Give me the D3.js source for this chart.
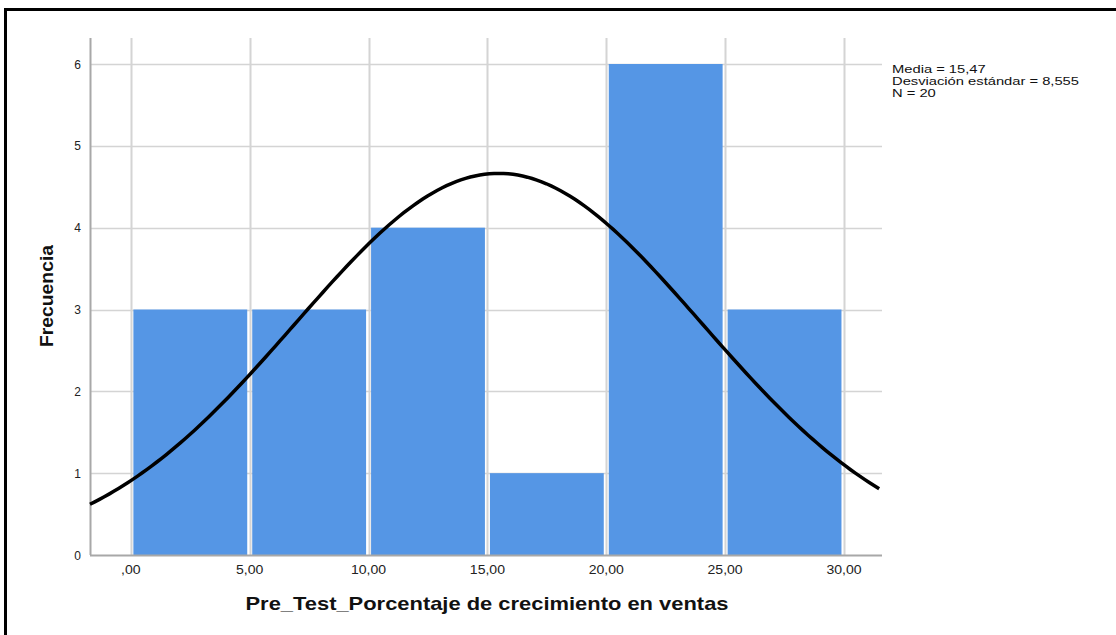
<!DOCTYPE html>
<html>
<head>
<meta charset="utf-8">
<script src="https://cdn.jsdelivr.net/npm/d3@7"></script>
<style>
  body { margin: 0; background: #fff; }
  text { font-family: "Liberation Sans", Arial, sans-serif; }
</style>
</head>
<body>
<div id="vis"></div>
<script>
const width = 1116
const height = 635

// histogram bins and counts
const binStarts = [0, 5, 10, 15, 20, 25]
const binWidth = 5
const counts = [3, 3, 4, 1, 6, 3]

// axis ticks
const xTicks = [0, 5, 10, 15, 20, 25, 30]
const xTickLabels = [",00", "5,00", "10,00", "15,00", "20,00", "25,00", "30,00"]
const yTicks = [0, 1, 2, 3, 4, 5, 6]

// summary statistics shown in the legend
const mean = 15.47
const sd = 8.555
const n = 20
const statLines = ["Media = 15,47", "Desviación estándar = 8,555", "N = 20"]

const plotLeft = 90, plotRight = 882, plotTop = 38, plotBottom = 555

// the source picture's text is a little wider than the font renders here
function stretch(sel, k) {
    sel.each(function () {
        const w = this.getComputedTextLength()
        d3.select(this).attr("textLength", w * k).attr("lengthAdjust", "spacingAndGlyphs")
    })
}

const svg = d3.select("#vis")
    .append("svg")
    .attr("width", width)
    .attr("height", height)

// frame (top and left edges)
svg.append("line").attr("x1", 5).attr("x2", width).attr("y1", 9.5).attr("y2", 9.5)
    .attr("stroke", "#000").attr("stroke-width", 3)
svg.append("line").attr("x1", 5.5).attr("x2", 5.5).attr("y1", 8).attr("y2", height)
    .attr("stroke", "#000").attr("stroke-width", 3)

const xScale = d3.scaleLinear([-1.72, 31.6], [plotLeft, plotRight])
const yScale = d3.scaleLinear([0, 6], [plotBottom, 64])

// gridlines
svg.append("g").selectAll("line")
    .data(xTicks)
    .join("line")
        .attr("x1", d => Math.round(xScale(d)) + 0.5)
        .attr("x2", d => Math.round(xScale(d)) + 0.5)
        .attr("y1", plotTop)
        .attr("y2", plotBottom)
        .attr("stroke", "#d4d4d4")
        .attr("stroke-width", 2)

svg.append("g").selectAll("line")
    .data(yTicks.slice(1))
    .join("line")
        .attr("x1", plotLeft)
        .attr("x2", plotRight)
        .attr("y1", d => Math.round(yScale(d)) + 0.5)
        .attr("y2", d => Math.round(yScale(d)) + 0.5)
        .attr("stroke", "#d4d4d4")
        .attr("stroke-width", 1.5)

// bars
svg.append("g").selectAll("rect")
    .data(binStarts)
    .join("rect")
        .attr("x", d => xScale(d) + 2.5)
        .attr("width", d => xScale(d + binWidth) - xScale(d) - 5)
        .attr("y", (d, i) => yScale(counts[i]))
        .attr("height", (d, i) => yScale(0) - yScale(counts[i]))
        .attr("fill", "#5596e5")

// axis lines
svg.append("line").attr("x1", plotLeft + 0.5).attr("x2", plotLeft + 0.5).attr("y1", plotTop).attr("y2", plotBottom)
    .attr("stroke", "#a8a8a8").attr("stroke-width", 2)
svg.append("line").attr("x1", plotLeft).attr("x2", plotRight).attr("y1", plotBottom + 0.5).attr("y2", plotBottom + 0.5)
    .attr("stroke", "#a8a8a8").attr("stroke-width", 2)

// normal curve from the stated mean and standard deviation
const curveXs = d3.range(xScale.domain()[0], xScale.domain()[1] + 0.01, 0.2)
const density = x => n * binWidth / (sd * Math.sqrt(2 * Math.PI)) * Math.exp(-((x - mean) ** 2) / (2 * sd * sd))
svg.append("path")
    .datum(curveXs)
    .attr("d", d3.line().x(d => xScale(d)).y(d => yScale(density(d))))
    .attr("fill", "none")
    .attr("stroke", "#000")
    .attr("stroke-width", 3.5)

// tick labels
svg.append("g").selectAll("text")
    .data(yTicks)
    .join("text")
        .attr("x", 81)
        .attr("y", d => yScale(d) + 4.5)
        .attr("text-anchor", "end")
        .attr("font-size", 12)
        .attr("fill", "#222")
        .text(d => d)

svg.append("g").selectAll("text")
    .data(xTicks)
    .join("text")
        .attr("x", d => xScale(d))
        .attr("y", 574)
        .attr("text-anchor", "middle")
        .attr("font-size", 12)
        .attr("fill", "#222")
        .text((d, i) => xTickLabels[i])
        .call(stretch, 1.17)

// axis titles
svg.append("text")
    .attr("x", 487)
    .attr("y", 610)
    .attr("text-anchor", "middle")
    .attr("font-size", 19)
    .attr("font-weight", "bold")
    .attr("fill", "#111")
    .text("Pre_Test_Porcentaje de crecimiento en ventas")
    .attr("textLength", 483)
    .attr("lengthAdjust", "spacingAndGlyphs")

svg.append("text")
    .attr("transform", "translate(53, 296) rotate(-90)")
    .attr("text-anchor", "middle")
    .attr("font-size", 19)
    .attr("font-weight", "bold")
    .attr("fill", "#111")
    .text("Frecuencia")
    .attr("textLength", 102)
    .attr("lengthAdjust", "spacingAndGlyphs")

// stats legend
svg.append("g").selectAll("text")
    .data(statLines)
    .join("text")
        .attr("x", 892)
        .attr("y", (d, i) => 73 + i * 12)
        .attr("font-size", 11.5)
        .attr("fill", "#111")
        .text(d => d)
        .call(stretch, 1.28)
</script>
</body>
</html>
